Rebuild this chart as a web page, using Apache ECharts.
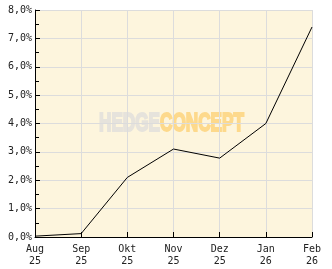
<!DOCTYPE html>
<html><head><meta charset="utf-8">
<script src="https://cdn.jsdelivr.net/npm/echarts@6/dist/echarts.min.js"></script>
<style>html,body{margin:0;padding:0;background:#fff}#c{width:332px;height:269px}</style>
</head><body><div id="c"></div>
<script>
const categories = ['Aug\n25','Sep\n25','Okt\n25','Nov\n25','Dez\n25','Jan\n26','Feb\n26'];
const values = [0.03, 0.12, 2.1, 3.1, 2.78, 4.0, 7.4];
const yTicks = [0,1,2,3,4,5,6,7,8];
const chart = echarts.init(document.getElementById('c'), null, {renderer:'canvas'});
const font = 'DejaVu Sans Mono';
chart.setOption({
  animation:false,
  backgroundColor:'#ffffff',
  grid:{left:35,right:20,top:10,bottom:32,show:true,backgroundColor:'#fdf5dd',borderWidth:0},
  xAxis:{type:'category',data:categories,boundaryGap:false,
    axisLine:{lineStyle:{color:'#000',width:1}},
    axisTick:{inside:true,length:5,lineStyle:{color:'#000'}},
    axisLabel:{color:'#222',fontFamily:font,fontSize:10,lineHeight:12,margin:6,interval:0},
    splitLine:{show:true,lineStyle:{color:'#dcdcdc',width:1}}},
  yAxis:{type:'value',min:yTicks[0],max:yTicks[yTicks.length-1],interval:1,
    axisLine:{show:true,lineStyle:{color:'#000',width:1}},
    axisTick:{show:true,inside:true,length:5,lineStyle:{color:'#000'}},
    minorTick:{show:true,splitNumber:2,length:4,lineStyle:{color:'#000'}},
    axisLabel:{color:'#222',fontFamily:font,fontSize:10,margin:3,formatter:v=>v.toFixed(1).replace('.',',')+'%'},
    splitLine:{show:true,lineStyle:{color:'#dcdcdc',width:1}}},
  graphic:[{type:'text',x:99,y:111,scaleX:0.66,z:0,silent:true,
    style:{text:'{a|HEDGE}{b|CONCEPT}',rich:{
      a:{fontFamily:'Liberation Sans',fontWeight:'bold',fontSize:26,fill:'#e6e3dc',stroke:'#e6e3dc',lineWidth:2},
      b:{fontFamily:'Liberation Sans',fontWeight:'bold',fontSize:26,fill:'#fdd98c',stroke:'#fdd98c',lineWidth:2}}}}],
  series:[{type:'line',data:values,symbol:'none',z:5,lineStyle:{color:'#000',width:1}}]
});
</script></body></html>
